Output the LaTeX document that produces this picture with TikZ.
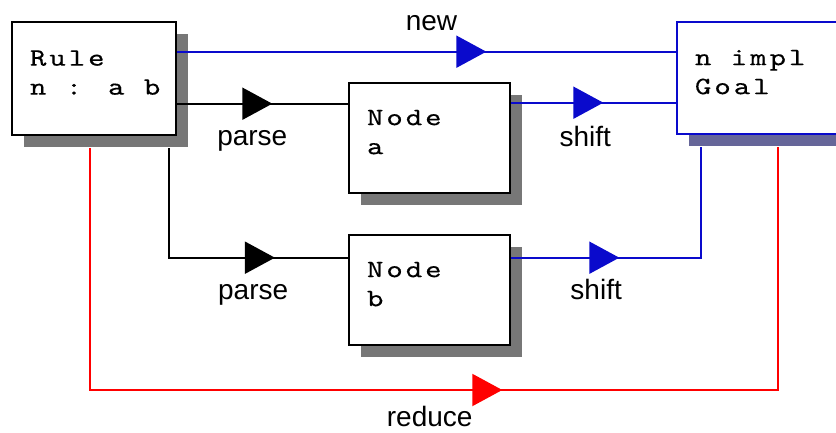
\documentclass[tikz,border=0pt]{standalone}
\usepackage{fontspec}
\setmainfont{Liberation Sans}
\newfontfamily\boxfont[FakeStretch=1.25, LetterSpace=12, FakeBold=0.3]{lmmono10-regular.otf}
\newcommand\boxtype{\boxfont\fontsize{25}{29}\selectfont\spaceskip=19.4pt\relax}
\usetikzlibrary{arrows.meta,shadows,decorations.markings}

\definecolor{linkblue}{RGB}{10,10,204}
\definecolor{shadowgray}{RGB}{119,119,119}
\definecolor{slate}{RGB}{102,102,153}

\tikzset{midtip/.style = {decoration={markings, mark=at position #1 with {\arrow{Triangle[length=30pt,width=32pt]}}}, postaction={decorate}}}
\tikzset{box/.style = {draw, rectangle, fill=white, line width=2.6pt, align=flush left, inner xsep=18pt, text depth=41pt,
                       font=\boxtype,
                       drop shadow={shadow xshift=12pt, shadow yshift=-12pt, fill=#1, opacity=1}},
         box/.default = shadowgray}
\tikzset{link/.style = {line width=2pt}}
\tikzset{tag/.style = {font=\fontsize{28}{30}\selectfont, text=black, anchor=base, inner sep=0}}

\begin{document}
\begin{tikzpicture}[x=1pt, y=1pt]
\clip (0,0) rectangle (836,432);
\fill[white] (0,0) rectangle (836,432);

\node[box, minimum width=164, minimum height=113, text width=128] (rule) at (94,353.5) {Rule\\\mbox{n : a b}};
\node[box, minimum width=161, minimum height=110, text width=125] (nodea) at (429.5,294) {Node\\a};
\node[box, minimum width=161, minimum height=110, text width=125] (nodeb) at (429.5,142) {Node\\b};
\node[box=slate, draw=linkblue, minimum width=173, minimum height=112, text width=137] (goal) at (763.5,354) {\mbox{n impl}\\Goal};

\coordinate (low) at (0,42);

% rule -> goal
\draw[link, linkblue, midtip=309pt] ([yshift=-31pt]rule.north east) coordinate (nw)
  -- (nw -| goal.west) node[tag, pos=0.51, yshift=21pt] {new};
% rule -> nodes
\draw[link, midtip=95pt] ([yshift=-83pt]rule.north east) coordinate (pa)
  -- (pa -| nodea.west) node[tag, pos=0.44, yshift=-42pt] {parse};
\draw[link, midtip=215pt] ([xshift=-8pt,yshift=-12pt]rule.south east)
  |- ([yshift=-24pt]nodeb.north west) node[tag, pos=0.735, yshift=-42pt] {parse};
% nodes -> goal
\draw[link, linkblue, midtip=92pt] ([yshift=-21pt]nodea.north east) coordinate (sa)
  -- (sa -| goal.west) node[tag, pos=0.45, yshift=-44pt] {shift};
\draw[link, linkblue, midtip=108pt] ([yshift=-24pt]nodeb.north east)
  -| ([xshift=25pt,yshift=-12pt]goal.south west) node[tag, pos=0.224, yshift=-42pt] {shift};
% rule -> goal, round the bottom
\draw[link, red, midtip=654pt] ([xshift=-4pt,yshift=-12pt]rule.south) coordinate (rd)
  -- (rd |- low) -| ([xshift=102pt,yshift=-12pt]goal.south west) node[tag, pos=0.247, yshift=-36pt] {reduce};
\end{tikzpicture}
\end{document}
